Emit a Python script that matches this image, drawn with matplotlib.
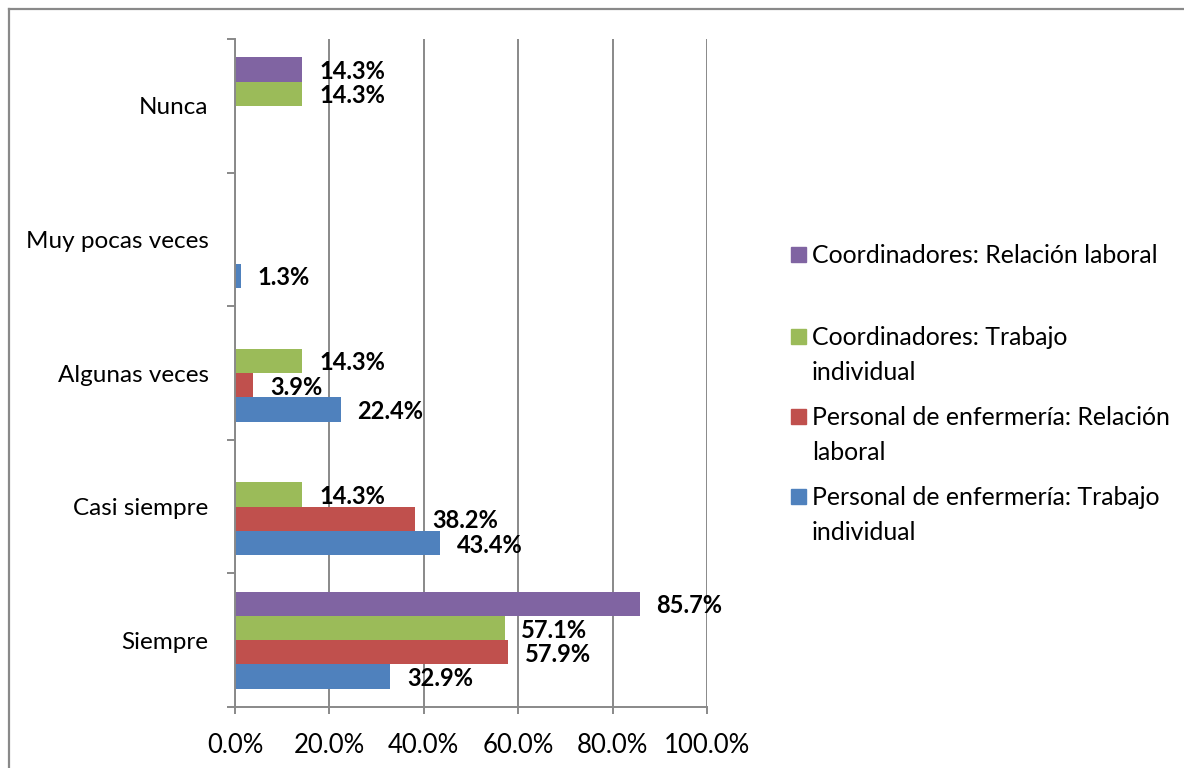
import matplotlib
matplotlib.use("Agg")
import matplotlib.pyplot as plt
from matplotlib.lines import Line2D
from matplotlib.patches import Rectangle
from matplotlib.ticker import FuncFormatter, FixedLocator
import numpy as np

plt.rcParams['font.family'] = ['Lato', 'DejaVu Sans']

categories = ["Siempre", "Casi siempre", "Algunas veces", "Muy pocas veces", "Nunca"]
series_names = [
    "Personal de enfermería: Trabajo individual",
    "Personal de enfermería: Relación laboral",
    "Coordinadores: Trabajo individual",
    "Coordinadores: Relación laboral",
]
legend_labels = [
    "Personal de enfermería: Trabajo\nindividual",
    "Personal de enfermería: Relación\nlaboral",
    "Coordinadores: Trabajo\nindividual",
    "Coordinadores: Relación laboral",
]
pe_trabajo = [32.9, 43.4, 22.4, 1.3, 0.0]
pe_relacion = [57.9, 38.2, 3.9, 0.0, 0.0]
co_trabajo = [57.1, 14.3, 14.3, 0.0, 14.3]
co_relacion = [85.7, 0.0, 0.0, 0.0, 14.3]
series_values = [pe_trabajo, pe_relacion, co_trabajo, co_relacion]
colors = ["#4F81BD", "#C0504D", "#9BBB59", "#8064A2"]

W, H = 1184, 768
fig = plt.figure(figsize=(W / 100, H / 100), dpi=100)
ax = fig.add_axes([235 / W, 1 - 707 / H, (707 - 235) / W, (707 - 39) / H])

n = len(series_values)
bh = 1 / (n + 1.5)
y = np.arange(len(categories))
for i, (vals, col) in enumerate(zip(series_values, colors)):
    pos = y + (i - (n - 1) / 2) * bh
    v = np.array(vals) / 100
    ax.barh(pos, v, height=bh, color=col, zorder=3)
    for p, val in zip(pos, vals):
        if val > 0:
            ax.annotate(f"{val:.1f}%", xy=(val / 100, p), xytext=(12, -1.5),
                        textcoords="offset points", ha="left", va="center",
                        fontsize=17, fontweight="bold", color="black", zorder=4)

ax.set_xlim(0, 1)
ax.set_ylim(-0.5, len(categories) - 0.5)
ax.xaxis.set_major_locator(FixedLocator([0, 0.2, 0.4, 0.6, 0.8, 1.0]))
ax.xaxis.set_major_formatter(FuncFormatter(lambda v, p: f"{v * 100:.1f}%"))
ax.set_yticks(y)
ax.set_yticklabels(categories)
ax.yaxis.set_minor_locator(FixedLocator(np.arange(-0.5, len(categories), 1.0)))

gray = "#898989"
ax.grid(axis="x", color=gray, linewidth=1.4, zorder=0)
for s in ["top", "right"]:
    ax.spines[s].set_visible(False)
for s in ["left", "bottom"]:
    ax.spines[s].set_color(gray)
    ax.spines[s].set_linewidth(1.4)
    ax.spines[s].set_zorder(5)

ax.tick_params(axis="y", which="major", length=0, pad=19, labelsize=17.5)
ax.tick_params(axis="y", which="minor", length=6, width=1.4, color=gray)
ax.tick_params(axis="x", which="major", length=5, width=1.4, color=gray, pad=14, labelsize=18.5)

# legend (manual, Excel-like layout)
lx, tx = 791, 812
ys = [496, 416, 336, 254]
for col, lab, yc in zip(colors, legend_labels, ys):
    fig.add_artist(Rectangle(((lx) / W, 1 - (yc + 7.5) / H), 15 / W, 15 / H,
                             transform=fig.transFigure, color=col))
    fig.text(tx / W, 1 - (yc - 10) / H, lab, ha="left", va="top",
             fontsize=17.9, linespacing=1.62)

# chart border
fig.add_artist(Line2D([8.5 / W, 8.5 / W], [0, 1 - 9 / H], transform=fig.transFigure,
                      color=gray, linewidth=1.6))
fig.add_artist(Line2D([8.5 / W, 1], [1 - 9 / H, 1 - 9 / H], transform=fig.transFigure,
                      color=gray, linewidth=1.6))

fig.savefig("out.png", dpi=100)
